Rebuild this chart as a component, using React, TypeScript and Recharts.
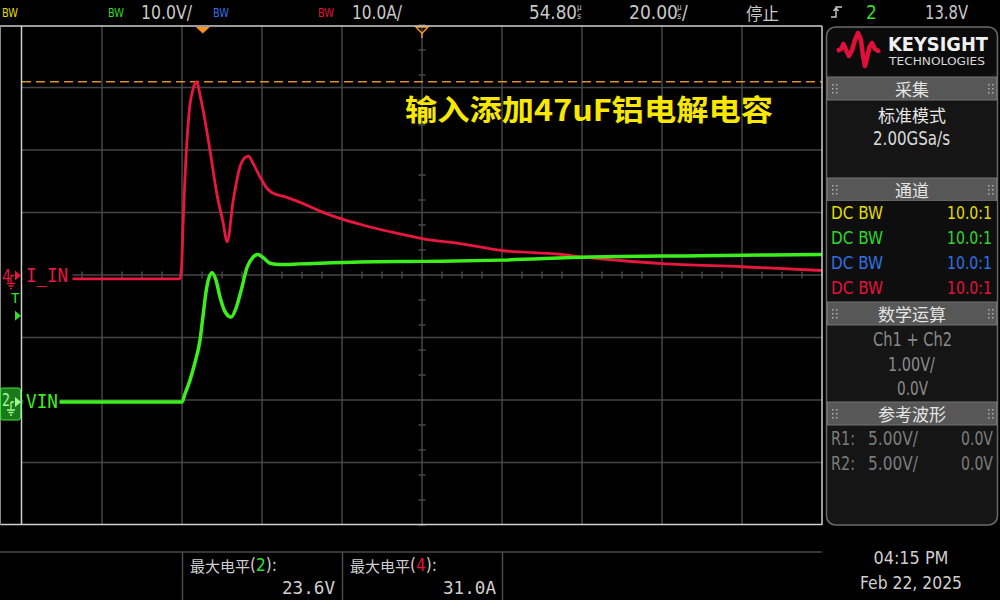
import React from "react";
import { LineChart, Line, XAxis, YAxis, ReferenceLine, ReferenceDot } from "recharts";

// ---------- values ----------
// time in µs, 0 = trigger point. Timebase 20 µs/div, delay 54.80 µs
const timeDelayUs = 54.8;
const timePerDivUs = 20;
const horizDivs = 10;
const vertDivs = 8;

// channel settings
const vinVoltsPerDiv = 10;
const iinAmpsPerDiv = 10;
const vinGroundDiv = -2.032; // ch2 ground position (divisions from centre, + = up)
const iinGroundDiv = -0.008; // ch4 ground position
const triggerLevelV = 13.8;
const maxMarkerAmps = 31.0;

// Ch4  I_IN  (A)
const iinTimeUs = [-45.2, -5.7, -5.3, -4.9, -4.0, -3.2, -2.4, -1.5, -0.7, 0.1, 1.8, 3.5, 5.1, 6.1, 7.6, 9.3, 10.6, 11.4, 12.6, 14.3, 16.0, 17.2, 21.0, 25.1, 29.3, 33.5, 39.3, 46.8, 54.8, 64.3, 74.8, 89.3, 95.6, 104.3, 114.8, 134.8, 154.8];
const iinAmps = [-0.55, -0.55, 1.4, 8.8, 21.1, 27.4, 29.9, 31.0, 28.9, 26.4, 20.0, 13.1, 8.4, 5.4, 12.0, 17.4, 18.9, 19.1, 17.9, 15.8, 14.0, 13.3, 12.5, 11.5, 10.3, 9.3, 8.2, 7.0, 5.9, 5.1, 4.0, 3.4, 2.9, 2.4, 1.9, 1.4, 0.8];

// Ch2  VIN  (V)
const vinTimeUs = [-45.2, -5.2, -4.5, -3.2, -2.0, -0.7, 0.1, 0.8, 1.6, 2.3, 3.3, 4.3, 5.6, 7.1, 8.3, 9.6, 11.1, 12.6, 13.8, 15.1, 16.8, 19.3, 24.3, 39.3, 54.8, 74.8, 96.8, 124.3, 154.8];
const vinVolts = [0, 0, 1.2, 3.5, 6.2, 9.9, 14.0, 17.6, 20.0, 20.7, 19.5, 16.8, 14.4, 13.6, 15.0, 17.9, 21.6, 23.2, 23.6, 23.1, 22.2, 22.0, 22.1, 22.4, 22.5, 22.7, 23.2, 23.4, 23.6];

// text
const titleText = "输入添加47uF铝电解电容";
const channelRows = [
  { name: "DC BW", ratio: "10.0:1", color: "#e2dc00" },
  { name: "DC BW", ratio: "10.0:1", color: "#2fd82a" },
  { name: "DC BW", ratio: "10.0:1", color: "#2f72e0" },
  { name: "DC BW", ratio: "10.0:1", color: "#e3123c" },
];
const measLabels = [
  { label: "最大电平", ch: "2", chColor: "#2fe02a", value: "23.6V" },
  { label: "最大电平", ch: "4", chColor: "#e8123c", value: "31.0A" },
];

// ---------- layout ----------
const PL = 22, PT = 25, PW = 800, PH = 500;
const tStart = timeDelayUs - (horizDivs / 2) * timePerDivUs;
const tEnd = timeDelayUs + (horizDivs / 2) * timePerDivUs;
const half = vertDivs / 2;
const vinDomain = [(-half - vinGroundDiv) * vinVoltsPerDiv, (half - vinGroundDiv) * vinVoltsPerDiv];
const iinDomain = [(-half - iinGroundDiv) * iinAmpsPerDiv, (half - iinGroundDiv) * iinAmpsPerDiv];
const divToY = (d: number) => PT + PH / 2 - d * (PH / vertDivs);

const iinData = iinTimeUs.map((t, i) => ({ t, a: iinAmps[i] }));
const vinData = vinTimeUs.map((t, i) => ({ t, v: vinVolts[i] }));

const gridT = Array.from({ length: horizDivs - 1 }, (_, k) => tStart + (k + 1) * timePerDivUs);
const gridD = Array.from({ length: vertDivs - 1 }, (_, k) => -half + k + 1);
const tickT = Array.from({ length: horizDivs * 4 + 1 }, (_, k) => tStart + k * (timePerDivUs / 4));
const tickD = Array.from({ length: 21 }, (_, k) => -half + k * 0.4);

const GRID = "#464646";
const RED = "#e8173f";
const GREEN = "#3cee1c";
const NARROW = "'DejaVu Sans Condensed', 'DejaVu Sans', sans-serif";
const MONO = "'DejaVu Sans Mono', monospace";
const CJK = "'Noto Sans CJK SC', sans-serif";

const Txt = (p: any) => (
  <text
    x={p.x}
    y={p.y}
    fontSize={p.size || 16}
    fill={p.fill || "#c8c8c8"}
    fontFamily={p.family || NARROW}
    textAnchor={p.anchor || "start"}
    dominantBaseline="central"
    fontWeight={p.weight}
    textLength={p.len}
    lengthAdjust={p.len ? "spacingAndGlyphs" : undefined}
  >
    {p.children}
  </text>
);

const Grip = ({ x, y }: { x: number; y: number }) => (
  <g fill="#b0b0b0">
    {[0, 1, 2].map((r) => (
      <React.Fragment key={r}>
        <rect x={x} y={y + r * 4} width={1.5} height={1.5} />
        <rect x={x + 4} y={y + r * 4} width={1.5} height={1.5} />
      </React.Fragment>
    ))}
  </g>
);

const Header = ({ y, label }: { y: number; label: string }) => (
  <g>
    <rect x={827.5} y={y} width={169} height={23} fill="#575757" stroke="#737373" strokeWidth={1} />
    <Grip x={832} y={y + 7} />
    <Grip x={988} y={y + 7} />
    <Txt x={912} y={y + 11.5} anchor="middle" family={CJK} size={17} fill="#e4e4e4">
      {label}
    </Txt>
  </g>
);

const GroundSym = ({ x, y, color }: { x: number; y: number; color: string }) => (
  <path
    d={`M${x + 2},${y} H${x + 5} M${x + 2},${y} V${y + 8} M${x - 2},${y + 8} H${x + 6} M${x - 0.5},${y + 10.5} H${x + 4.5} M${x + 1},${y + 13} H${x + 3}`}
    stroke={color}
    strokeWidth={1.3}
    fill="none"
  />
);

const Overlay = () => {
  const iinZeroY = divToY(iinGroundDiv);
  const vinZeroY = divToY(vinGroundDiv);
  const trigY = divToY(triggerLevelV / vinVoltsPerDiv + vinGroundDiv);
  return (
    <svg width={1000} height={600} style={{ position: "absolute", left: 0, top: 0, pointerEvents: "none" }}>
      {/* top bar */}
      <Txt x={2} y={12} size={13} fill="#e2dc00" len={16}>BW</Txt>
      <Txt x={108} y={12} size={13} fill="#2fd82a" len={16}>BW</Txt>
      <Txt x={141} y={12} size={19} len={51}>10.0V/</Txt>
      <Txt x={213} y={12} size={13} fill="#2f72e0" len={16}>BW</Txt>
      <Txt x={318} y={12} size={13} fill="#e3123c" len={16}>BW</Txt>
      <Txt x={352} y={12} size={19} len={50}>10.0A/</Txt>
      <Txt x={529} y={12} size={19} len={48}>54.80</Txt>
      <Txt x={577} y={7} size={8}>µ</Txt>
      <Txt x={577} y={16} size={9}>s</Txt>
      <Txt x={629} y={12} size={19} len={49}>20.00</Txt>
      <Txt x={677} y={7} size={8}>µ</Txt>
      <Txt x={677} y={16} size={9}>s</Txt>
      <Txt x={682} y={12} size={19}>/</Txt>
      <Txt x={746} y={12} size={17} family={CJK} len={33}>停止</Txt>
      <path d="M831,17 H836 V7 H842 M833.5,11 L836,8 L838.5,11" stroke="#c8c8c8" strokeWidth={1.4} fill="none" />
      <Txt x={866} y={12} size={19} fill="#2fe02a">2</Txt>
      <Txt x={925} y={12} size={19} len={43}>13.8V</Txt>

      {/* plot frame */}
      <line x1={0} y1={26} x2={822} y2={26} stroke="#cfcfcf" strokeWidth={1.5} />
      <line x1={0} y1={524.5} x2={822} y2={524.5} stroke="#cfcfcf" strokeWidth={1.5} />
      <line x1={21.5} y1={26} x2={21.5} y2={525} stroke="#cfcfcf" strokeWidth={1.5} />
      <line x1={822} y1={26} x2={822} y2={525} stroke="#cfcfcf" strokeWidth={1.5} />
      <line x1={0.5} y1={26} x2={0.5} y2={525} stroke="#8a8a8a" strokeWidth={1} />

      {/* left channel markers */}
      <rect x={22.5} y={iinZeroY - 10} width={50} height={19} fill="#000" />
      <Txt x={26} y={iinZeroY - 1} size={19} family={MONO} fill={RED} len={42}>I_IN</Txt>
      <Txt x={2} y={iinZeroY} size={17} family={MONO} fill={RED} len={9}>4</Txt>
      <GroundSym x={9} y={iinZeroY} color={RED} />
      <path d={`M15,${iinZeroY - 5} L21,${iinZeroY} L15,${iinZeroY + 5} Z`} fill={RED} />

      <Txt x={11} y={trigY - 18} size={14} family={MONO} fill="#2fe02a">T</Txt>
      <path d={`M15,${trigY - 5} L21,${trigY} L15,${trigY + 5} Z`} fill="#2fe02a" />

      <rect x={22.5} y={vinZeroY - 10} width={37} height={19} fill="#000" />
      <Txt x={26} y={vinZeroY - 1} size={19} family={MONO} fill={GREEN} len={32}>VIN</Txt>
      <rect x={0.5} y={vinZeroY - 14} width={20} height={32} rx={2} fill="#1c781c" stroke="#3ee63a" strokeWidth={1} />
      <Txt x={2} y={vinZeroY - 2} size={17} family={MONO} fill="#9cff90" len={8}>2</Txt>
      <GroundSym x={9} y={vinZeroY} color="#9cff90" />
      <path d={`M15,${vinZeroY - 5} L21,${vinZeroY} L15,${vinZeroY + 5} Z`} fill="#9cff90" />

      {/* title annotation */}
      <Txt x={405} y={108} size={29} family={CJK} weight={700} fill="#f8e800" len={368}>{titleText}</Txt>

      {/* right panel */}
      <rect x={826.5} y={27} width={171} height={498} rx={9} fill="#151515" stroke="#6a6a6a" strokeWidth={1.5} />
      <rect x={828} y={28.5} width={168} height={48} rx={7} fill="#0b0b0b" />
      <path
        d="M837,51 L841,49 L843.5,44 L846,50 L849,56 L852,50 L855,40 L858,33 L861,40 L863,56 L865,66 L867,58 L869.5,47 L872,43 L875,49 L878,51 L880,50"
        stroke="#e0103a"
        strokeWidth={4.5}
        fill="none"
        strokeLinejoin="round"
      />
      <Txt x={888} y={44} size={19} family="'DejaVu Sans', sans-serif" weight={700} fill="#f0f0f0" len={100}>KEYSIGHT</Txt>
      <Txt x={889} y={61.5} size={10} family="'DejaVu Sans', sans-serif" fill="#d8d8d8" len={96}>TECHNOLOGIES</Txt>

      <Header y={77} label="采集" />
      <Txt x={912} y={114} anchor="middle" family={CJK} size={17} fill="#e6e6e6">标准模式</Txt>
      <Txt x={873} y={137.5} size={19} fill="#dadada" len={77}>2.00GSa/s</Txt>

      <Header y={178} label="通道" />
      <rect x={827.5} y={201} width={169} height={100} fill="#0e0e0e" />
      {channelRows.map((r, i) => (
        <React.Fragment key={i}>
          <Txt x={831} y={212 + i * 25} size={18} fill={r.color} len={52}>{r.name}</Txt>
          <Txt x={992} y={212 + i * 25} size={18} fill={r.color} anchor="end" len={45}>{r.ratio}</Txt>
        </React.Fragment>
      ))}

      <Header y={302} label="数学运算" />
      <Txt x={873} y={339} size={19} fill="#8a8a8a" len={79}>Ch1 + Ch2</Txt>
      <Txt x={888} y={364} size={19} fill="#8a8a8a" len={47}>1.00V/</Txt>
      <Txt x={897} y={388} size={19} fill="#8a8a8a" len={31}>0.0V</Txt>

      <Header y={402} label="参考波形" />
      <Txt x={831} y={438} size={19} fill="#7c7c7c" len={24}>R1:</Txt>
      <Txt x={868} y={438} size={19} fill="#7c7c7c" len={50}>5.00V/</Txt>
      <Txt x={993} y={438} size={19} fill="#7c7c7c" anchor="end" len={32}>0.0V</Txt>
      <Txt x={831} y={463} size={19} fill="#7c7c7c" len={24}>R2:</Txt>
      <Txt x={868} y={463} size={19} fill="#7c7c7c" len={50}>5.00V/</Txt>
      <Txt x={993} y={463} size={19} fill="#7c7c7c" anchor="end" len={32}>0.0V</Txt>

      {/* bottom measurement bar */}
      <line x1={0} y1={552} x2={822} y2={552} stroke="#4a4a4a" strokeWidth={1.5} />
      {[182.5, 342.5, 502.5].map((x) => (
        <line key={x} x1={x} y1={552} x2={x} y2={600} stroke="#4a4a4a" strokeWidth={1.5} />
      ))}
      {measLabels.map((m, i) => (
        <React.Fragment key={i}>
          <text x={190 + i * 160} y={565} fontSize={15} fill="#d0d0d0" dominantBaseline="central">
            <tspan fontFamily={CJK}>{m.label}</tspan>
            <tspan fontFamily={NARROW} fontSize={17}>(</tspan>
            <tspan fontFamily={NARROW} fontSize={17} fill={m.chColor}>{m.ch}</tspan>
            <tspan fontFamily={NARROW} fontSize={17}>):</tspan>
          </text>
          <Txt x={335 + i * 161} y={587} size={18} family={MONO} anchor="end" fill="#d0d0d0" len={53}>{m.value}</Txt>
        </React.Fragment>
      ))}
      <Txt x={911} y={557} size={18} anchor="middle" fill="#cfcfcf" len={75}>04:15 PM</Txt>
      <Txt x={911} y={582} size={18} anchor="middle" fill="#cfcfcf" len={102}>Feb 22, 2025</Txt>
    </svg>
  );
};

const TrigMarker = (p: any) => (
  <path d={`M${p.cx - 7},${p.cy + 2} L${p.cx + 7},${p.cy + 2} L${p.cx},${p.cy + 8.5} Z`} fill="#f7941d" />
);
const RefMarker = (p: any) => (
  <g stroke="#f7941d" strokeWidth={1.5} fill="none">
    <path d={`M${p.cx - 6},${p.cy + 2} L${p.cx + 6},${p.cy + 2} L${p.cx},${p.cy + 8.5} Z`} />
    <line x1={p.cx} y1={p.cy + 8.5} x2={p.cx} y2={p.cy + 13} />
  </g>
);

export default function App() {
  return (
    <div style={{ position: "fixed", left: 0, top: 0, width: 1000, height: 600, background: "#000", overflow: "hidden" }}>
      <div style={{ position: "absolute", left: 0, top: 0 }}>
        <LineChart width={1000} height={600} margin={{ top: PT, right: 1000 - PL - PW, bottom: 600 - PT - PH, left: PL }}>
          <XAxis type="number" dataKey="t" domain={[tStart, tEnd]} hide allowDataOverflow />
          <YAxis yAxisId="div" type="number" domain={[-half, half]} hide allowDataOverflow />
          <YAxis yAxisId="v" type="number" domain={vinDomain} hide allowDataOverflow />
          <YAxis yAxisId="a" type="number" domain={iinDomain} hide allowDataOverflow />

          {gridT.map((t) => (
            <ReferenceLine key={"gx" + t} yAxisId="div" x={t} stroke={GRID} strokeWidth={1.5} />
          ))}
          {gridD.map((d) => (
            <ReferenceLine key={"gy" + d} yAxisId="div" y={d} stroke={GRID} strokeWidth={1.5} />
          ))}
          {tickT.map((t) => (
            <ReferenceLine
              key={"tx" + t}
              yAxisId="div"
              segment={[{ x: t, y: -0.056 }, { x: t, y: 0.056 }]}
              stroke={GRID}
              strokeWidth={1.5}
            />
          ))}
          {tickD.map((d) => (
            <ReferenceLine
              key={"ty" + d}
              yAxisId="div"
              segment={[{ x: timeDelayUs - 0.875, y: d }, { x: timeDelayUs + 0.875, y: d }]}
              stroke={GRID}
              strokeWidth={1.5}
            />
          ))}
          <ReferenceLine yAxisId="a" y={maxMarkerAmps} stroke="#e0901e" strokeWidth={1.5} strokeDasharray="9 5" />

          <Line
            yAxisId="a"
            data={iinData}
            dataKey="a"
            type="monotone"
            stroke={RED}
            strokeWidth={2.8}
            dot={false}
            isAnimationActive={false}
          />
          <Line
            yAxisId="v"
            data={vinData}
            dataKey="v"
            type="monotone"
            stroke={GREEN}
            strokeWidth={3.5}
            dot={false}
            isAnimationActive={false}
          />
          <ReferenceDot yAxisId="div" x={0} y={half} r={0} ifOverflow="visible" shape={TrigMarker} />
          <ReferenceDot yAxisId="div" x={timeDelayUs} y={half} r={0} ifOverflow="visible" shape={RefMarker} />
        </LineChart>
      </div>
      <Overlay />
    </div>
  );
}
